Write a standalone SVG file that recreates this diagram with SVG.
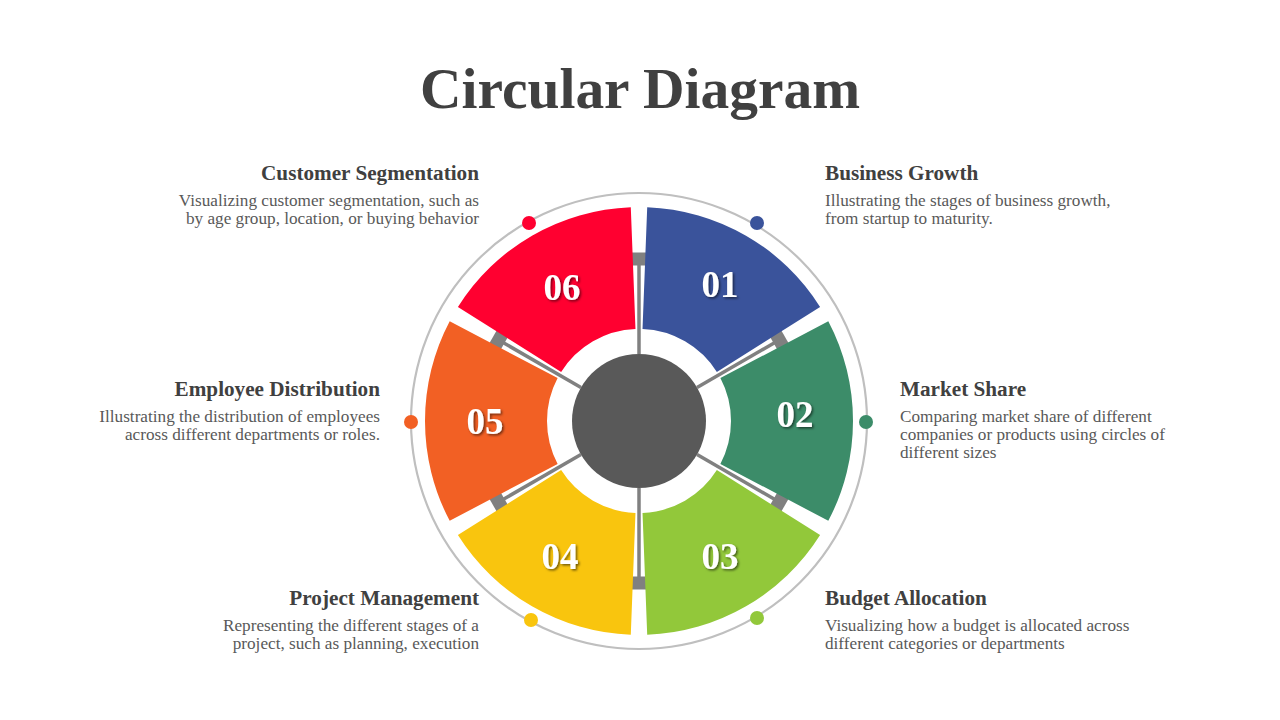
<svg xmlns="http://www.w3.org/2000/svg" width="1280" height="720" viewBox="0 0 1280 720">
  <defs>
    <style>
      .title { font-family: "Liberation Serif", "DejaVu Serif", serif; font-weight: bold; font-size: 56px; fill: #404040; }
      .head { font-family: "Liberation Serif", "DejaVu Serif", serif; font-weight: bold; font-size: 21.2px; fill: #404040; }
      .body { font-family: "Liberation Serif", "DejaVu Serif", serif; font-size: 17.2px; fill: #595959; }
      .num { font-family: "Liberation Serif", "DejaVu Serif", serif; font-weight: bold; font-size: 37px; fill: #ffffff; text-anchor: middle; filter: url(#shadow); }
      .spoke { stroke: #808080; stroke-width: 3.5; }
      .sq { fill: #808080; }
      .r { text-anchor: end; }
    </style>
    <filter id="shadow" x="-20%" y="-20%" width="140%" height="140%">
      <feDropShadow dx="1.5" dy="1.5" stdDeviation="0.8" flood-color="#000000" flood-opacity="0.55"/>
    </filter>
    <path id="seg" d="M 539.19 231.70 A 214 214 0 0 1 738.81 231.70 L 681.91 339.62 A 92 92 0 0 0 596.09 339.62 Z"/>
  </defs>
  <rect width="1280" height="720" fill="#ffffff"/>

  <text class="title" x="640" y="108" text-anchor="middle" textLength="440" lengthAdjust="spacingAndGlyphs">Circular Diagram</text>

  <circle cx="639" cy="421" r="228" fill="none" stroke="#BFBFBF" stroke-width="2.2"/>

  <g id="connectors">
    <g transform="rotate(0 639 421)"><line class="spoke" x1="639" y1="354" x2="639" y2="262"/><rect class="sq" x="631" y="252.5" width="16" height="13"/></g>
    <g transform="rotate(60 639 421)"><line class="spoke" x1="639" y1="354" x2="639" y2="262"/><rect class="sq" x="631" y="252.5" width="16" height="13"/></g>
    <g transform="rotate(120 639 421)"><line class="spoke" x1="639" y1="354" x2="639" y2="262"/><rect class="sq" x="631" y="252.5" width="16" height="13"/></g>
    <g transform="rotate(180 639 421)"><line class="spoke" x1="639" y1="354" x2="639" y2="262"/><rect class="sq" x="631" y="252.5" width="16" height="13"/></g>
    <g transform="rotate(240 639 421)"><line class="spoke" x1="639" y1="354" x2="639" y2="262"/><rect class="sq" x="631" y="252.5" width="16" height="13"/></g>
    <g transform="rotate(300 639 421)"><line class="spoke" x1="639" y1="354" x2="639" y2="262"/><rect class="sq" x="631" y="252.5" width="16" height="13"/></g>
  </g>

  <g id="hub"><circle cx="639" cy="421" r="67" fill="#595959"/></g>

  <g id="node-01">
    <use href="#seg" fill="#3A539B" transform="rotate(30 639 421)"/>
    <circle cx="757" cy="223" r="7" fill="#3A539B"/>
    <text class="num" x="720" y="297">01</text>
    <text class="head" x="825" y="180">Business Growth</text>
    <text class="body" x="825" y="206">Illustrating the stages of business growth,</text>
    <text class="body" x="825" y="224">from startup to maturity.</text>
  </g>

  <g id="node-02">
    <use href="#seg" fill="#3C8C69" transform="rotate(90 639 421)"/>
    <circle cx="866" cy="422" r="7" fill="#3C8C69"/>
    <text class="num" x="795" y="427">02</text>
    <text class="head" x="900" y="396">Market Share</text>
    <text class="body" x="900" y="422">Comparing market share of different</text>
    <text class="body" x="900" y="440">companies or products using circles of</text>
    <text class="body" x="900" y="458">different sizes</text>
  </g>

  <g id="node-03">
    <use href="#seg" fill="#92C83A" transform="rotate(150 639 421)"/>
    <circle cx="757" cy="618" r="7" fill="#92C83A"/>
    <text class="num" x="720" y="569">03</text>
    <text class="head" x="825" y="605">Budget Allocation</text>
    <text class="body" x="825" y="631">Visualizing how a budget is allocated across</text>
    <text class="body" x="825" y="649">different categories or departments</text>
  </g>

  <g id="node-04">
    <use href="#seg" fill="#F9C50E" transform="rotate(210 639 421)"/>
    <circle cx="531" cy="620" r="7" fill="#F9C50E"/>
    <text class="num" x="560" y="569">04</text>
    <text class="head r" x="479" y="605">Project Management</text>
    <text class="body r" x="479" y="631">Representing the different stages of a</text>
    <text class="body r" x="479" y="649">project, such as planning, execution</text>
  </g>

  <g id="node-05">
    <use href="#seg" fill="#F26024" transform="rotate(270 639 421)"/>
    <circle cx="411" cy="422" r="7" fill="#F26024"/>
    <text class="num" x="485" y="434">05</text>
    <text class="head r" x="380" y="396">Employee Distribution</text>
    <text class="body r" x="380" y="422">Illustrating the distribution of employees</text>
    <text class="body r" x="380" y="440">across different departments or roles.</text>
  </g>

  <g id="node-06">
    <use href="#seg" fill="#FF0030" transform="rotate(330 639 421)"/>
    <circle cx="529" cy="223" r="7" fill="#FF0030"/>
    <text class="num" x="562" y="300">06</text>
    <text class="head r" x="479" y="180">Customer Segmentation</text>
    <text class="body r" x="479" y="206">Visualizing customer segmentation, such as</text>
    <text class="body r" x="479" y="224">by age group, location, or buying behavior</text>
  </g>
</svg>
